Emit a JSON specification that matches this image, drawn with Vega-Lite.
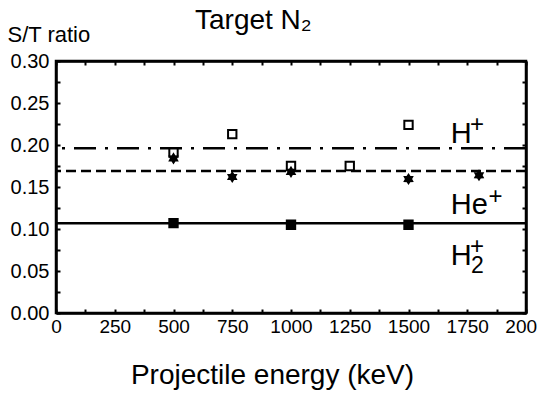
{
  "$schema": "https://vega.github.io/schema/vega-lite/v6.json",
  "width": 470,
  "height": 252,
  "autosize": {"type": "none"},
  "padding": {"left": 56, "top": 61, "right": 11, "bottom": 83},
  "background": "white",
  "config": {
    "font": "Liberation Sans",
    "view": {"stroke": "black", "strokeWidth": 2.5},
    "axis": {
      "grid": false,
      "domainColor": "black",
      "domainWidth": 2.5,
      "tickColor": "black",
      "tickWidth": 2,
      "tickSize": -4,
      "labelFont": "Liberation Sans",
      "labelFontSize": 20,
      "labelColor": "black",
      "titleColor": "black",
      "titleFont": "Liberation Sans",
      "titleFontWeight": "normal"
    }
  },
  "title": {
    "text": "Target N₂",
    "anchor": "start",
    "frame": "group",
    "dx": 139,
    "dy": 34,
    "offset": 0,
    "baseline": "alphabetic",
    "fontSize": 28,
    "fontWeight": "normal",
    "font": "Liberation Sans",
    "color": "black"
  },
  "datasets": {
    "points": [
      {"ion": "H+", "energy": 500, "ratio": 0.191},
      {"ion": "H+", "energy": 750, "ratio": 0.213},
      {"ion": "H+", "energy": 1000, "ratio": 0.175},
      {"ion": "H+", "energy": 1250, "ratio": 0.175},
      {"ion": "H+", "energy": 1500, "ratio": 0.224},
      {"ion": "He+", "energy": 500, "ratio": 0.184},
      {"ion": "He+", "energy": 750, "ratio": 0.162},
      {"ion": "He+", "energy": 1000, "ratio": 0.168},
      {"ion": "He+", "energy": 1500, "ratio": 0.1595},
      {"ion": "He+", "energy": 1800, "ratio": 0.164},
      {"ion": "H2+", "energy": 500, "ratio": 0.107},
      {"ion": "H2+", "energy": 1000, "ratio": 0.105},
      {"ion": "H2+", "energy": 1500, "ratio": 0.105}
    ],
    "fits": [
      {"ion": "H+", "ratio": 0.196},
      {"ion": "He+", "ratio": 0.169},
      {"ion": "H2+", "ratio": 0.1068}
    ],
    "labels": [
      {"ion": "H+", "text": "H", "energy": 1680, "ratio": 0.2024},
      {"ion": "He+", "text": "He", "energy": 1680, "ratio": 0.1179},
      {"ion": "H2+", "text": "H", "energy": 1680, "ratio": 0.0571}
    ],
    "sups": [
      {"ion": "H+", "text": "+", "energy": 1762, "ratio": 0.2155},
      {"ion": "He+", "text": "+", "energy": 1840, "ratio": 0.1292},
      {"ion": "H2+", "text": "+", "energy": 1762, "ratio": 0.0702}
    ],
    "subs": [
      {"ion": "H2+", "text": "2", "energy": 1766, "ratio": 0.0476}
    ]
  },
  "resolve": {"axis": {"x": "independent", "y": "independent"}},
  "layer": [
    {
      "data": {"name": "fits"},
      "mark": {"type": "rule", "strokeWidth": 2.5, "color": "black"},
      "encoding": {
        "y": {"field": "ratio", "type": "quantitative", "scale": {"domain": [0, 0.3], "nice": false, "zero": false}, "axis": null},
        "strokeDash": {
          "field": "ion", "type": "nominal",
          "scale": {"domain": ["H+", "He+", "H2+"], "range": [[22, 9, 3, 9], [10, 5], [1, 0]]},
          "legend": null
        }
      }
    },
    {
      "data": {"name": "points"},
      "mark": {"type": "point", "filled": true, "stroke": "black", "strokeWidth": 2, "size": 70, "opacity": 1},
      "encoding": {
        "x": {
          "field": "energy", "type": "quantitative",
          "scale": {"domain": [0, 2000], "nice": false, "zero": false},
          "axis": {
            "orient": "bottom",
            "values": [0, 125, 250, 375, 500, 625, 750, 875, 1000, 1125, 1250, 1375, 1500, 1625, 1750, 1875, 2000],
            "labelExpr": "datum.value % 250 === 0 ? format(datum.value, 'd') : ''",
            "labelFlush": false,
            "labelOverlap": false,
            "labelFontSize": 19,
            "labelPadding": 8,
            "title": "Projectile energy (keV)",
            "titleFontSize": 28,
            "titleX": 216,
            "titleY": 70,
            "titleAnchor": "middle",
            "titleBaseline": "alphabetic"
          }
        },
        "y": {
          "field": "ratio", "type": "quantitative",
          "scale": {"domain": [0, 0.3], "nice": false, "zero": false},
          "axis": {
            "orient": "left",
            "values": [0, 0.025, 0.05, 0.075, 0.1, 0.125, 0.15, 0.175, 0.2, 0.225, 0.25, 0.275, 0.3],
            "labelExpr": "round(datum.value * 40) % 2 === 0 ? format(datum.value, '.2f') : ''",
            "labelOverlap": false,
            "labelFlush": false,
            "labelPadding": 11,
            "title": "S/T ratio",
            "titleFontSize": 22,
            "titleAngle": 0,
            "titleAlign": "left",
            "titleBaseline": "alphabetic",
            "titleX": -49,
            "titleY": -20
          }
        },
        "shape": {
          "field": "ion", "type": "nominal",
          "scale": {"domain": ["H+", "He+", "H2+"], "range": ["square", "M0,-1L0.3,-0.52L0.87,-0.5L0.6,0L0.87,0.5L0.3,0.52L0,1L-0.3,0.52L-0.87,0.5L-0.6,0L-0.87,-0.5L-0.3,-0.52Z", "square"]},
          "legend": null
        },
        "fill": {
          "field": "ion", "type": "nominal",
          "scale": {"domain": ["H+", "He+", "H2+"], "range": ["white", "black", "black"]},
          "legend": null
        }
      }
    },
    {
      "data": {"name": "labels"},
      "mark": {"type": "text", "align": "left", "baseline": "alphabetic", "fontSize": 29, "font": "Liberation Sans", "color": "black"},
      "encoding": {
        "x": {
          "field": "energy", "type": "quantitative",
          "scale": {"domain": [0, 2000], "nice": false, "zero": false},
          "axis": {
            "orient": "top",
            "values": [0, 125, 250, 375, 500, 625, 750, 875, 1000, 1125, 1250, 1375, 1500, 1625, 1750, 1875, 2000],
            "labels": false,
            "title": null
          }
        },
        "y": {
          "field": "ratio", "type": "quantitative",
          "scale": {"domain": [0, 0.3], "nice": false, "zero": false},
          "axis": {
            "orient": "right",
            "values": [0, 0.025, 0.05, 0.075, 0.1, 0.125, 0.15, 0.175, 0.2, 0.225, 0.25, 0.275, 0.3],
            "labels": false,
            "title": null
          }
        },
        "text": {"field": "text"}
      }
    },
    {
      "data": {"name": "sups"},
      "mark": {"type": "text", "align": "left", "baseline": "alphabetic", "fontSize": 24, "font": "Liberation Sans", "color": "black"},
      "encoding": {
        "x": {"field": "energy", "type": "quantitative", "scale": {"domain": [0, 2000], "nice": false, "zero": false}, "axis": null},
        "y": {"field": "ratio", "type": "quantitative", "scale": {"domain": [0, 0.3], "nice": false, "zero": false}, "axis": null},
        "text": {"field": "text"}
      }
    },
    {
      "data": {"name": "subs"},
      "mark": {"type": "text", "align": "left", "baseline": "alphabetic", "fontSize": 23, "font": "Liberation Sans", "color": "black"},
      "encoding": {
        "x": {"field": "energy", "type": "quantitative", "scale": {"domain": [0, 2000], "nice": false, "zero": false}, "axis": null},
        "y": {"field": "ratio", "type": "quantitative", "scale": {"domain": [0, 0.3], "nice": false, "zero": false}, "axis": null},
        "text": {"field": "text"}
      }
    }
  ]
}
